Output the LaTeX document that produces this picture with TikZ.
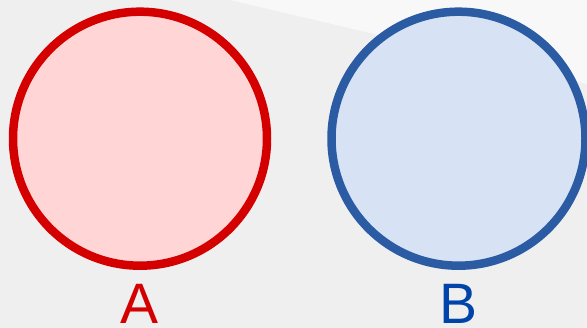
\documentclass[tikz,border=0pt]{standalone}
\usepackage{fontspec}
\setmainfont{Liberation Sans}
\definecolor{bgcol}{HTML}{EFEFEF}
\definecolor{bglight}{HTML}{F8F8F8}
\definecolor{redline}{HTML}{D40000}
\definecolor{redfill}{HTML}{FFD5D5}
\definecolor{blueline}{HTML}{2B5CA3}
\definecolor{bluefill}{HTML}{D7E3F4}
\definecolor{bluetext}{HTML}{0044AA}
\begin{document}
\begin{tikzpicture}[x=1pt,y=-1pt,
  setcircle/.style={circle,inner sep=0pt,minimum size=254pt,line width=8.5pt},
  setlabel/.style={anchor=base,inner sep=0pt,font=\fontsize{57}{60}\selectfont}]
\useasboundingbox (0,0) rectangle (587,328);
\clip (0,0) rectangle (587,328);
\fill[bgcol] (0,0) rectangle (587,328);
\fill[bglight] (230,0) -- (587,0) -- (587,84) -- cycle;
\node[setcircle,draw=redline,fill=redfill] (A) at (140,138.7) {};
\node[setcircle,draw=blueline,fill=bluefill] (B) at (458.5,138.7) {};
\node[setlabel,text=redline] (labA) at (140,323.5) {A};
\node[setlabel,text=bluetext] (labB) at (458.5,323.5) {B};
\end{tikzpicture}
\end{document}
